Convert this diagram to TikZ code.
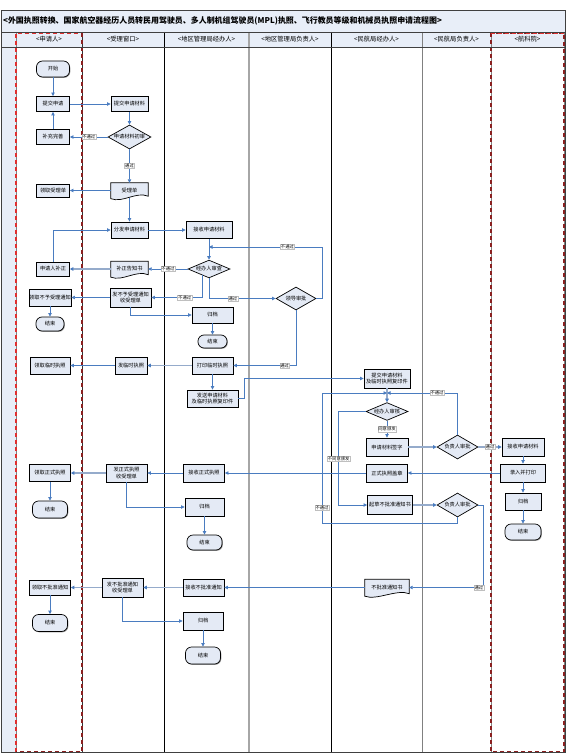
\documentclass[tikz,border=0pt]{standalone}
\usepackage{fontspec}
\setmainfont{Noto Sans CJK SC}
\usetikzlibrary{shapes.geometric,arrows.meta,calc,backgrounds,shadows}
\definecolor{bf}{HTML}{E4EAF5}
\definecolor{hf}{HTML}{E8EEF8}
\definecolor{fl}{HTML}{4A7CC0}
\definecolor{fk}{HTML}{95ABCB}
\definecolor{dr}{HTML}{8B2020}
\definecolor{rr}{HTML}{E03030}
\newcommand\bxf{\fontsize{5.2}{6.2}\selectfont}
\newcommand\lbf{\fontsize{4.3}{5}\selectfont}
\newcommand\hdf{\fontsize{6.3}{7.5}\selectfont}
\newcommand\ttlf{\fontsize{7.95}{10}\selectfont\bfseries}
\newcommand\docsh[1]{%
 \begin{scope}[on background layer]
 \draw[line width=0.7pt, fill=bf] (#1.north west) -- (#1.north east) -- ([yshift=2pt]#1.south east) .. controls ([xshift=-12pt,yshift=7pt]#1.south east) and ([xshift=12pt,yshift=-5pt]#1.south west) .. ([yshift=-0.5pt]#1.south west) -- cycle;
 \end{scope}}
\tikzset{
 box/.style={draw=black, line width=0.7pt, fill=bf, inner sep=0.3pt, align=center, font=\bxf, drop shadow={shadow xshift=0.8pt,shadow yshift=-0.8pt,fill=black!40,opacity=1}},
 wh/.style 2 args={minimum width=#1pt, minimum height=#2pt},
 term/.style={box, rounded corners=6pt},
 dia/.style={draw=black, line width=0.7pt, fill=bf, diamond, aspect=2, inner sep=0pt, align=center, font=\bxf},
 docn/.style={inner sep=0.3pt, align=center, font=\bxf},
 flow/.style={draw=fl, line width=0.7pt, -{Triangle[length=3.5pt,width=3.4pt,color=fl]}},
 flowk/.style={draw=fk, line width=1.6pt, -{Triangle[length=3.5pt,width=3.6pt,color=fl]}},
 lab/.style={fill=white, draw=gray!50, line width=0.3pt, inner sep=0.6pt, font=\lbf, text=black},
 hdr/.style={draw=gray!70, line width=0.6pt, fill=hf, font=\hdf, minimum height=15pt, inner sep=0pt},
}
\begin{document}
\begin{tikzpicture}[x=1pt,y=-1pt]
\useasboundingbox (0,0) rectangle (573,754);
% title and header
\fill[hf] (1,10) rectangle (565,32);
\node[anchor=west, font=\ttlf, inner sep=0pt] (title) at (3,21) {<外国执照转换、国家航空器经历人员转民用驾驶员、多人制机组驾驶员(MPL)执照、飞行教员等级和机械员执照申请流程图>};
\fill[hf] (1,32) rectangle (16,752);
\node[hdr, minimum width=66pt] (h1) at (49,39.5) {<申请人>};
\node[hdr, minimum width=82pt] (h2) at (123,39.5) {<受理窗口>};
\node[hdr, minimum width=85pt] (h3) at (206.5,39.5) {<地区管理局经办人>};
\node[hdr, minimum width=82pt] (h4) at (290,39.5) {<地区管理局负责人>};
\node[hdr, minimum width=91pt] (h5) at (376.5,39.5) {<民航局经办人>};
\node[hdr, minimum width=69pt] (h6) at (456.5,39.5) {<民航局负责人>};
\node[hdr, minimum width=73pt] (h7) at (527.5,39.5) {<航科院>};
% lane lines
\draw[black, line width=0.8pt] (164,32) -- (164,752);
\draw[gray!70, line width=1.3pt] (249,32) -- (249,752);
\draw[black, line width=0.8pt] (331,32) -- (331,752);
\draw[gray, line width=1pt] (422,32) -- (422,752);
\draw[gray, line width=1pt] (16,32) -- (16,752);
\draw[black!80, line width=0.8pt] (82,32) -- (82,752);
\draw[gray, line width=1pt] (491,32) -- (491,752) (564,32) -- (564,752);
\draw[rr, line width=1.2pt, dash pattern=on 4pt off 3pt] (16,752) -- (16,33) -- (82,33);
\draw[dr, line width=1.2pt, dash pattern=on 4pt off 3pt] (82,33) -- (82,752) -- (16,752);
\draw[dr, line width=1.2pt, dash pattern=on 4pt off 3pt] (491,33) rectangle (564,752);
\draw[rr, line width=1.2pt, dash pattern=on 4pt off 3pt] (491,33) -- (564,33);
\draw[black!75, line width=0.8pt] (1,10) rectangle (565,752);
\draw[black!75, line width=0.6pt] (1,32) -- (565,32) (1,47) -- (565,47);

% lane 1
\node[term, wh={33}{16}] (start) at (53,69) {开始};
\node[box, wh={33}{15}] (tjsq) at (53,104) {提交申请};
\node[box, wh={33}{15}] (bcws) at (53,137) {补充完善};
\node[box, wh={33}{13}] (lqsld) at (53,190.5) {领取受理单};
\node[box, wh={33}{14}] (sqrbz) at (53,269) {申请人补正};
\node[box, wh={40}{17}] (lqbys) at (50,297.5) {领取不予受理通知};
\node[term, wh={28}{14}] (end1) at (50,324) {结束};
\node[box, wh={40}{17}] (lqlsz) at (50,365.5) {领取临时执照};
\node[box, wh={41}{17}] (lqzz) at (50,473) {领取正式执照};
\node[term, wh={35}{17}] (end4) at (50,509.5) {结束};
\node[box, wh={41}{15}] (lqbpz) at (50,587.5) {领取不批准通知};
\node[term, wh={35}{17}] (end5) at (50,623) {结束};
% lane 2
\node[box, wh={37}{15}] (tjsqcl) at (129.5,104) {提交申请材料};
\node[dia, wh={43}{24}] (cs) at (129.5,137) {申请材料初审};
\node[docn, wh={37}{15}] (sld) at (129.5,190.5) {受理单};
\docsh{sld}
\node[box, wh={37}{16}] (ffsq) at (129.5,230) {分发申请材料};
\node[docn, wh={37}{15}] (bzgz) at (129.5,269) {补正告知书};
\docsh{bzgz}
\node[box, wh={41}{19}] (byslt) at (130.5,297.5) {发不予受理通知\\收受理单};
\node[box, wh={32}{17}] (flsz) at (131,365.5) {发临时执照};
\node[box, wh={41}{18}] (fzz) at (126.5,473) {发正式执照\\收受理单};
\node[box, wh={41}{19}] (fbpz) at (122.5,587.5) {发不批准通知\\收受理单};
% lane 3
\node[box, wh={46}{17}] (jssq1) at (209,230) {接收申请材料};
\node[dia, wh={42}{17}] (jbsc) at (209,269) {经办人审查};
\node[box, wh={41}{16}] (gd1) at (212.5,315) {归档};
\node[term, wh={29}{13}] (end2) at (212.5,341.5) {结束};
\node[box, wh={41}{17}] (dylsz) at (212.5,365.5) {打印临时执照};
\node[box, wh={51}{17}] (fsclz) at (212.5,398.5) {发送申请材料\\及临时执照复印件};
\node[box, wh={41}{18}] (jszz) at (204,473) {接收正式执照};
\node[box, wh={39}{18}] (gd4) at (204.5,507) {归档};
\node[term, wh={35}{15}] (end6) at (204.5,542.5) {结束};
\node[box, wh={41}{17}] (jsbpz) at (203.5,587.5) {接收不批准通知};
\node[box, wh={40}{18}] (gd5) at (203,621) {归档};
\node[term, wh={35}{17}] (end7) at (203,655.5) {结束};
% lane 4
\node[dia, wh={40}{23}] (ldsp) at (296,298.5) {领导审批};
% lane 5
\node[box, wh={46}{19}] (tjclz) at (387,378.5) {提交申请材料\\及临时执照复印件};
\node[dia, wh={42}{17}] (jbsh) at (387,411.5) {经办人审核};
\node[box, wh={42}{18}] (sqcl) at (387,447) {申请材料签字};
\node[box, wh={41}{18}] (zszz) at (387,473) {正式执照盖章};
\node[box, wh={45}{19}] (qcbpz) at (390,505) {起草不批准通知书};
\node[docn, wh={44}{16}] (bpzd) at (387,587.5) {不批准通知书};
\docsh{bpzd}
% lane 6
\node[dia, wh={41}{24}] (fzsp1) at (457.5,447) {负责人审批};
\node[dia, wh={41}{24}] (fzsp2) at (457.5,505) {负责人审批};
% lane 7
\node[box, wh={42}{18}] (jssq2) at (523,447) {接收申请材料};
\node[box, wh={45}{18}] (lrdy) at (523,473) {录入并打印};
\node[box, wh={36}{17}] (gd3) at (523,501.5) {归档};
\node[term, wh={36}{16}] (end3) at (523,532) {结束};
% junctions
\coordinate (j1) at (209,247);
\coordinate (j2) at (387,393);
\coordinate (c1) at (322,523);

% connectors
\draw[flow] (start) -- (tjsq);
\draw[flow] (tjsq) -- (tjsqcl);
\draw[flow] (tjsqcl) -- (cs);
\draw[flow] (cs) -- node[lab]{不通过} (bcws);
\draw[flow] (bcws) -- (tjsq);
\draw[flow] (cs) -- node[lab]{通过} (sld);
\draw[flow] (sld) -- (lqsld);
\draw[flow] (sld) -- (ffsq);
\draw[flow] (ffsq) -- (jssq1);
\draw[flow] (sqrbz) |- (ffsq);
\draw[flow] (jssq1) -- (jbsc);
\draw[flow] (jbsc) -- node[lab]{不通过} (bzgz);
\draw[flowk] (bzgz) -- (sqrbz);
\draw[flow] ($(jbsc.south)!0.3!(jbsc.west)$) |- node[lab,pos=0.675]{不通过} (byslt);
\draw[flow] (jbsc.south) |- node[lab,pos=0.68]{通过} (ldsp);
\draw[flow] (ldsp.east) -- ++(6pt,0) |- node[lab,pos=0.654]{不通过} (j1);
\draw[flow] (byslt) -- (lqbys);
\draw[flow] (lqbys) -- (end1);
\draw[flow] (byslt.south) |- (gd1);
\draw[flow] (gd1) -- (end2);
\draw[flow] (ldsp.south) |- node[lab,pos=0.59]{通过} (dylsz);
\draw[flowk] (dylsz) -- (flsz);
\draw[flow] (flsz) -- (lqlsz);
\draw[flow] (dylsz) -- (fsclz);
\draw[flow] (fsclz.east) -- ++(6pt,0) |- (tjclz);
\draw[flowk] (tjclz) -- (jbsh);
\draw[flow] (fzsp1.north) |- node[lab,pos=0.645]{不通过} (j2);
\draw[flow] (fzsp2.south) |- (c1) |- node[lab,pos=0.058]{不通过} (j2);
\draw[flow] (jbsh) -- node[lab]{同意颁发} (sqcl);
\draw[flow] (jbsh.west) -- ++(-27pt,0) |- node[lab,pos=0.254]{不同意颁发} (qcbpz);
\draw[flowk] (sqcl) -- (fzsp1);
\draw[flowk] (fzsp1) -- node[lab]{通过} (jssq2);
\draw[flow] (jssq2) -- (lrdy);
\draw[flow] (lrdy) -- (gd3);
\draw[flow] (gd3) -- (end3);
\draw[flow] (lrdy) -- (zszz);
\draw[flow] (zszz) -- (jszz);
\draw[flow] (jszz) -- (fzz);
\draw[flowk] (fzz) -- (lqzz);
\draw[flow] (lqzz) -- (end4);
\draw[flow] (fzz.south) |- (gd4);
\draw[flow] (gd4) -- (end6);
\draw[flowk] (qcbpz) -- (fzsp2);
\draw[flow] (fzsp2.east) -- ++(5pt,0) |- node[lab,pos=0.53]{通过} (bpzd);
\draw[flow] (bpzd) -- (jsbpz);
\draw[flowk] (jsbpz) -- (fbpz);
\draw[flowk] (fbpz) -- (lqbpz);
\draw[flow] (lqbpz) -- (end5);
\draw[flow] (fbpz.south) |- (gd5);
\draw[flow] (gd5) -- (end7);
\end{tikzpicture}
\end{document}
